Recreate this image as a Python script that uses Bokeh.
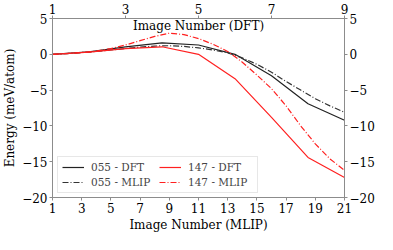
from bokeh.plotting import figure
from bokeh.models import (Range1d, LinearAxis, FixedTicker, CustomJSTickFormatter,
                          Label, Legend, LegendItem)
from bokeh.embed import file_html
from bokeh.resources import INLINE

# ---- data ----
mlip_images = list(range(1, 22))
dft_images = list(range(1, 10))

e055_dft = [0.0, 0.35, 1.05, 1.6, 1.3, 0.0, -3.0, -6.9, -9.2]
e147_dft = [0.0, 0.3, 0.8, 1.05, 0.0, -3.4, -8.8, -14.4, -17.2]

e055_mlip = [0.0, 0.1, 0.25, 0.4, 0.6, 0.8, 1.0, 1.15, 1.2, 1.1, 0.9,
             0.6, 0.2, -0.5, -1.4, -2.5, -3.8, -5.0, -6.2, -7.2, -8.1]
e147_mlip = [0.0, 0.1, 0.25, 0.45, 0.8, 1.3, 1.9, 2.5, 2.95, 2.75, 2.2,
             1.4, 0.4, -1.1, -2.9, -4.8, -7.2, -10.0, -12.5, -14.6, -16.2]

mlip_ticks = [1, 3, 5, 7, 9, 11, 13, 15, 17, 19, 21]
dft_ticks = [1, 3, 5, 7, 9]
energy_ticks = [-20, -15, -10, -5, 0, 5]

FONT = "DejaVu Serif"
GRAY = "#8c8c8c"

p = figure(width=377, height=234, output_backend="svg", toolbar_location=None,
           x_range=Range1d(1, 21), y_range=Range1d(-20, 5),
           min_border_left=4, min_border_right=4, min_border_top=4, min_border_bottom=4)
p.extra_x_ranges = {"dft": Range1d(1, 9)}
p.xgrid.visible = False
p.ygrid.visible = False
p.outline_line_color = GRAY
p.background_fill_color = "white"
p.border_fill_color = "white"

minus_fmt = CustomJSTickFormatter(code="return tick < 0 ? '\\u2212' + (-tick) : String(tick);")

bottom_axis = p.below[0]
left_axis = p.left[0]
bottom_axis.ticker = FixedTicker(ticks=mlip_ticks)
left_axis.ticker = FixedTicker(ticks=energy_ticks)
left_axis.formatter = minus_fmt

top_axis = LinearAxis(x_range_name="dft", ticker=FixedTicker(ticks=dft_ticks))
right_axis = LinearAxis(ticker=FixedTicker(ticks=energy_ticks), formatter=minus_fmt)
p.add_layout(top_axis, "above")
p.add_layout(right_axis, "right")

for ax in [bottom_axis, left_axis, top_axis, right_axis]:
    ax.axis_line_color = GRAY
    ax.major_tick_line_color = GRAY
    ax.major_tick_out = 3
    ax.major_tick_in = 0
    ax.minor_tick_out = 0
    ax.minor_tick_in = 0
    ax.major_label_text_font = FONT
    ax.major_label_text_font_size = "12px"
    ax.major_label_text_color = "black"
    ax.major_label_standoff = 2
    ax.axis_label_text_font = FONT
    ax.axis_label_text_font_size = "12px"
    ax.axis_label_text_font_style = "normal"
    ax.axis_label_text_color = "black"
    ax.axis_label_standoff = 2

bottom_axis.axis_label = "Image Number (MLIP)"
left_axis.axis_label = "Energy (meV/atom)"

r1 = p.line(dft_images, e055_dft, x_range_name="dft", line_color="#222222", line_width=1.2)
r2 = p.line(mlip_images, e055_mlip, line_color="#333333", line_width=1.2, line_dash="6 2 1 2")
r3 = p.line(dft_images, e147_dft, x_range_name="dft", line_color="#ff2020", line_width=1.2)
r4 = p.line(mlip_images, e147_mlip, line_color="#ff2020", line_width=1.2, line_dash="6 2 1 2")

p.add_layout(Label(x=11, y=3.9, text="Image Number (DFT)", text_align="center",
                   text_baseline="middle", text_font=FONT, text_font_size="12px",
                   text_color="black"))

legend = Legend(items=[LegendItem(label="055 - DFT", renderers=[r1]),
                       LegendItem(label="055 - MLIP", renderers=[r2]),
                       LegendItem(label="147 - DFT", renderers=[r3]),
                       LegendItem(label="147 - MLIP", renderers=[r4])],
                nrows=2, location=(5, 4), orientation="vertical")
legend.label_text_font = FONT
legend.label_text_font_size = "10.5px"
legend.glyph_width = 22
legend.glyph_height = 12
legend.label_height = 12
legend.label_width = 65
legend.label_standoff = 7
legend.spacing = 3
legend.padding = 4
legend.margin = 0
legend.border_line_color = "#d0d0d0"
legend.background_fill_alpha = 0.8
p.add_layout(legend)

open("out.html", "w").write(file_html(p, INLINE))
